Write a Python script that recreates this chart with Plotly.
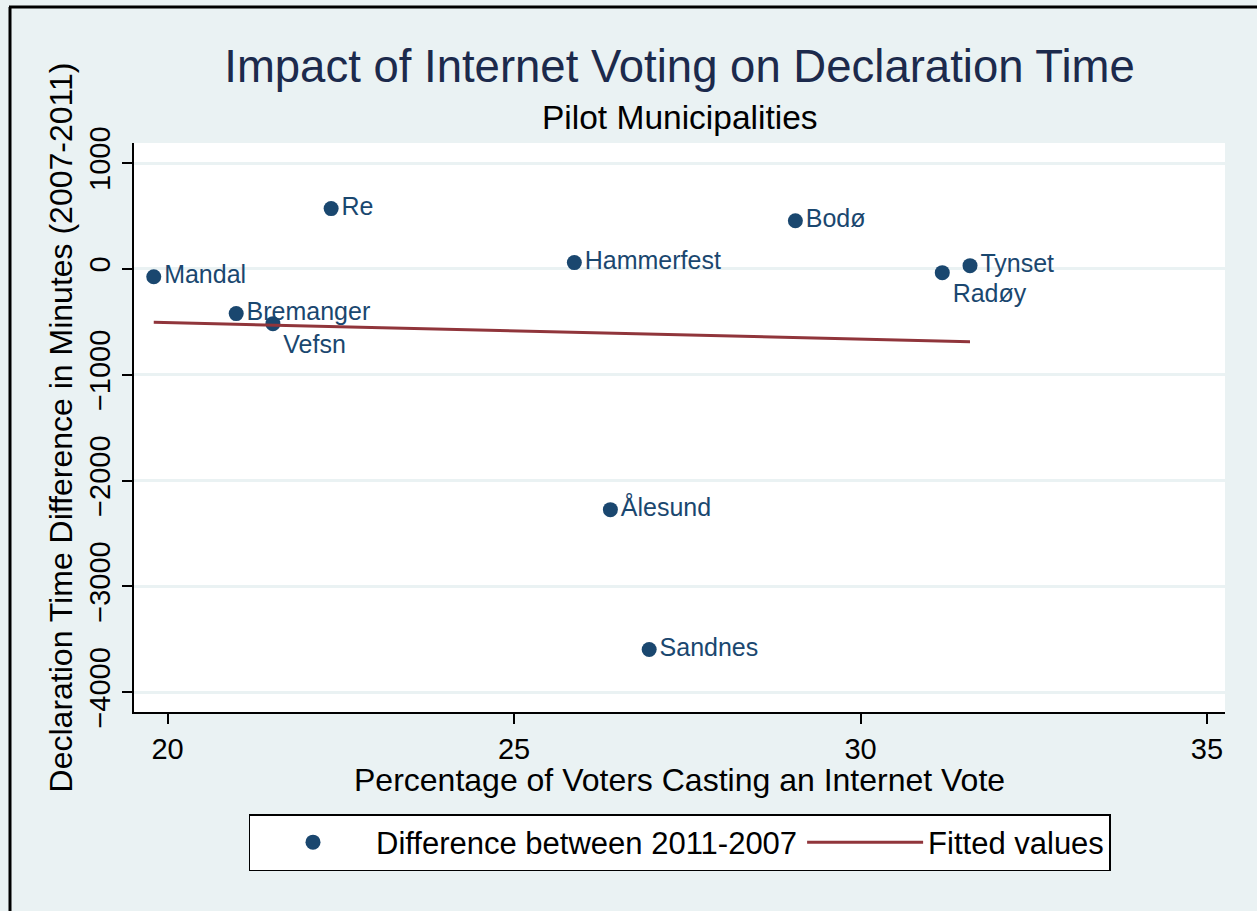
import plotly.graph_objects as go

# Data
municipalities = ["Mandal", "Bremanger", "Vefsn", "Re", "Hammerfest",
                  "Ålesund", "Sandnes", "Bodø", "Radøy", "Tynset"]
pct_internet = [19.80, 20.99, 21.52, 22.36, 25.87, 26.39, 26.95, 29.06, 31.18, 31.58]
time_diff = [-74, -423, -518, 569, 59, -2275, -3597, 455, -36, 30]
fitted = [-505, -523, -532, -545, -599, -607, -616, -649, -682, -688]

x_ticks = [20, 25, 30, 35]
y_ticks = [-4000, -3000, -2000, -1000, 0, 1000]

FONT = "Liberation Sans, Arial, sans-serif"
BG = "#eaf2f3"
NAVY = "#1a476f"
MAROON = "#90353b"

# labels to the right of the markers; two crowded ones nudged below
label_pos = ["middle right" if m not in ("Vefsn", "Radøy") else "bottom right"
             for m in municipalities]

fig = go.Figure()
fig.add_trace(go.Scatter(
    x=pct_internet, y=time_diff, mode="markers+text",
    text=municipalities, textposition=label_pos,
    textfont=dict(family=FONT, size=25, color=NAVY),
    marker=dict(size=15, color=NAVY),
    name="Difference between 2011-2007",
))
fig.add_trace(go.Scatter(
    x=pct_internet, y=fitted, mode="lines",
    line=dict(color=MAROON, width=3),
    name="Fitted values",
))

W, H = 1257, 911
L, R, T, B = 134, 32, 143, 199
pw, ph = W - L - R, H - T - B

def px_x(p):
    return (p - L) / pw

def px_y(p):
    return (H - B - p) / ph

fig.update_layout(
    width=W, height=H,
    margin=dict(l=L, r=R, t=T, b=B),
    paper_bgcolor=BG, plot_bgcolor="white",
    font=dict(family=FONT, color="black"),
    title=dict(text="Impact of Internet Voting on Declaration Time",
               font=dict(family=FONT, size=45.5, color="#1c2a4c"),
               x=0.5, xref="paper", xanchor="center",
               y=1 - 66 / H, yref="container", yanchor="middle"),
    xaxis=dict(range=[19.515, 35.26], tickvals=x_ticks,
               showgrid=False, zeroline=False,
               showline=True, linecolor="black", linewidth=2,
               ticks="outside", ticklen=10, tickwidth=1.5, tickcolor="black",
               tickfont=dict(family=FONT, size=29, color="black")),
    yaxis=dict(range=[-4187, 1189], tickvals=y_ticks, tickangle=-90,
               showgrid=True, gridcolor=BG, gridwidth=3, zeroline=False,
               showline=True, linecolor="black", linewidth=2,
               ticks="outside", ticklen=10, tickwidth=1.5, tickcolor="black",
               tickfont=dict(family=FONT, size=29, color="black"),
               title=dict(text="Declaration Time Difference in Minutes (2007-2011)",
                          font=dict(family=FONT, size=32, color="black"),
                          standoff=2)),
    legend=dict(orientation="h", x=0.5, xanchor="center",
                y=px_y(814), yanchor="top",
                bgcolor="white", bordercolor="black", borderwidth=1.5,
                font=dict(family=FONT, size=31, color="black"),
                itemwidth=116),
    showlegend=True,
    annotations=[
        dict(text="Pilot Municipalities", xref="paper", yref="paper",
             x=0.5, y=px_y(118), xanchor="center", yanchor="middle",
             showarrow=False,
             font=dict(family=FONT, size=33.5, color="black")),
        dict(text="Percentage of Voters Casting an Internet Vote",
             xref="paper", yref="paper",
             x=0.5, y=px_y(780), xanchor="center", yanchor="middle",
             showarrow=False,
             font=dict(family=FONT, size=32, color="black")),
    ],
    shapes=[
        dict(type="line", xref="paper", yref="paper",
             x0=px_x(10), x1=px_x(10), y0=px_y(7), y1=px_y(H + 5),
             line=dict(color="black", width=3)),
        dict(type="line", xref="paper", yref="paper",
             x0=px_x(9), x1=px_x(W + 5), y0=px_y(7), y1=px_y(7),
             line=dict(color="black", width=3)),
    ],
)

fig.write_html("out.html")
